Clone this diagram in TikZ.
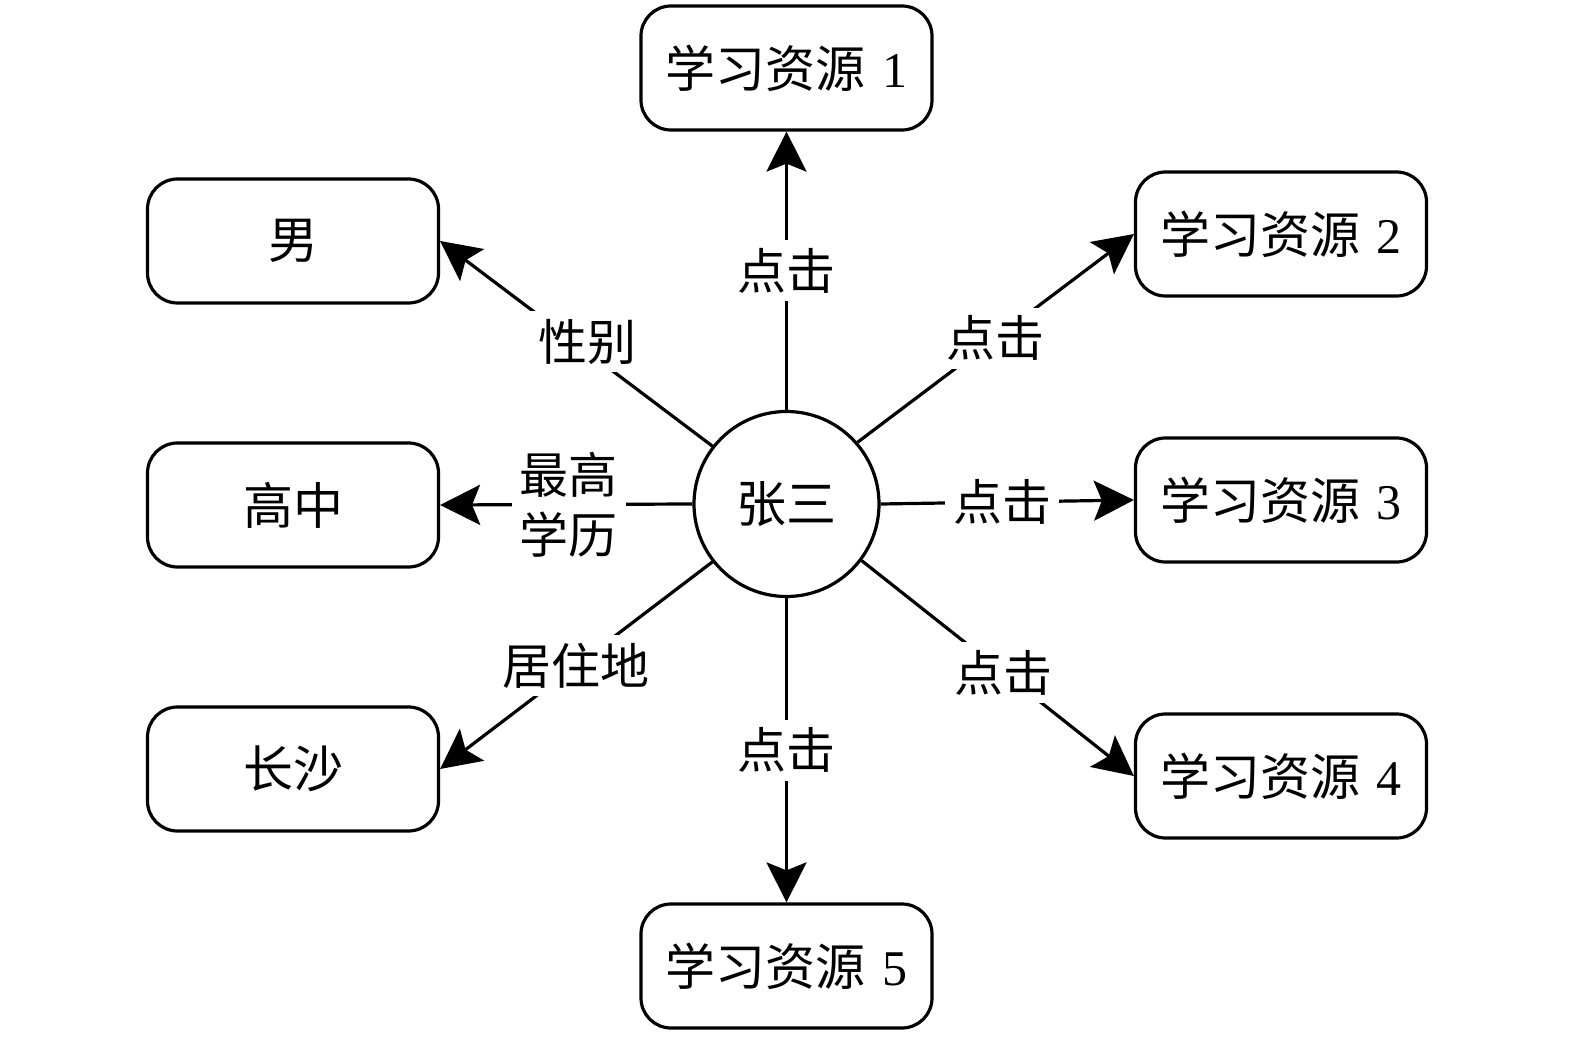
\documentclass[tikz,border=0pt]{standalone}
\usepackage{fontspec}
\setmainfont{Liberation Serif}
\newfontfamily\cjk{Noto Sans CJK SC}
\usetikzlibrary{arrows.meta}
\begin{document}
\begin{tikzpicture}[x=0.5pt,y=-0.5pt,
  box/.style={draw, line width=1.6pt, rounded corners=15pt, minimum width=145.5pt, minimum height=62pt, inner sep=0pt, font=\fontsize{25}{30}\selectfont},
  hub/.style={draw, circle, line width=1.6pt, minimum size=92.5pt, inner sep=0pt, font=\fontsize{25}{30}\selectfont},
  lbl/.style={fill=white, inner sep=4pt, align=center, font=\fontsize{24.5}{30}\selectfont\cjk},
  arr/.style={line width=1.6pt, -{Stealth[length=20pt,width=20pt,inset=4pt]}}
]
\useasboundingbox (0,0) rectangle (1575,1037);
\node[hub] (c) at (786.5,504) {\cjk 张三};
\node[box] (b1) at (786.5,68) {{\cjk 学习资源}\,\,1};
\node[box] (b2) at (1281,234) {{\cjk 学习资源}\,\,2};
\node[box] (b3) at (1281,500) {{\cjk 学习资源}\,\,3};
\node[box] (b4) at (1281,776) {{\cjk 学习资源}\,\,4};
\node[box] (b5) at (786.5,966) {{\cjk 学习资源}\,\,5};
\node[box] (m) at (293,241) {\cjk 男};
\node[box] (g) at (293,505) {\cjk 高中};
\node[box] (s) at (293,769) {\cjk 长沙};
\draw[arr] (c.north) -- node[lbl,pos=0.5] {点击} (b1.south);
\draw[arr] (c.41) -- node[lbl,pos=0.5] {点击} (b2.west);
\draw[arr] (c.east) -- node[lbl,pos=0.48] {点击} (b3.west);
\draw[arr] (c.-37) -- node[lbl,pos=0.52] {点击} (b4.west);
\draw[arr] (c.south) -- node[lbl,pos=0.5] {点击} (b5.north);
\draw[arr] (c.142) -- node[lbl,pos=0.46,yshift=5pt] {性别} (m.east);
\draw[arr] (c.west) -- node[lbl,pos=0.49] {最高\\学历} (g.east);
\draw[arr] (c.218) -- node[lbl,pos=0.5] {居住地} (s.east);
\end{tikzpicture}
\end{document}
